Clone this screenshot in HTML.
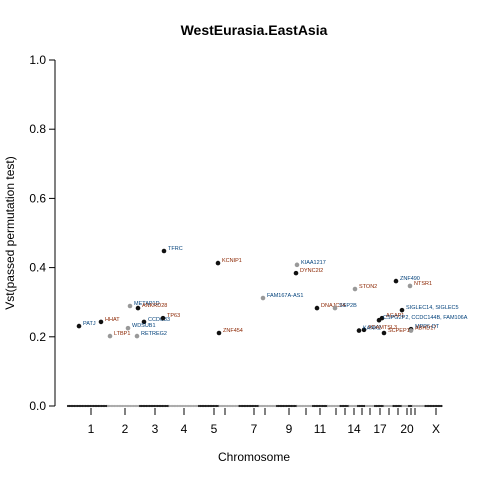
<!DOCTYPE html>
<html><head><meta charset="utf-8"><style>body{margin:0;background:#fff}svg{display:block;font-family:"Liberation Sans",sans-serif}</style></head>
<body>
<svg id="c" width="480" height="480">
<text x="254" y="35" text-anchor="middle" font-size="14" font-weight="bold">WestEurasia.EastAsia</text>
<text x="254" y="461" text-anchor="middle" font-size="12">Chromosome</text>
<text transform="translate(14,233) rotate(-90)" text-anchor="middle" font-size="12">Vst(passed permutation test)</text>
<g id="axes"></g><g id="base"></g><g id="pts"></g>
</svg>
<script>
const chroms=["1","2","3","4","5","6","7","8","9","10","11","12","13","14","15","16","17","18","19","20","21","22","X"];
const chromPos=[91,125,155,184,214,225,254,265,289,306,320,336,345,354,362,370,380,389,398,407,411,415,436];
const shownLabels=["1","2","3","4","5","7","9","11","14","17","20","X"];
const yTicks=[0,0.2,0.4,0.6,0.8,1.0];
const genes=["TFRC","KCNIP1","PATJ","HHAT","METAP1D","ANKRD28","CCDC83","TP63","WDSUB1","LTBP1","RETREG2","ZNF454","KIAA1217","DYNC2I2","FAM167A-AS1","DNAJC24","SSP2B","STON2","ZNF490","NTSR1","SIGLEC14, SIGLEC5","AGAP1","CSPG2P2, CCDC144B, FAM106A","ADAMTSL3","KANK2","SCPEP1","MPP6-DT","ABHD17"];
const geneX=[164,218,79,101,130,138,144,163,128,110,137,219,297,296,263,317,335,355,396,410,402,382,379,364,359,384,411,411];
const geneV=[0.448,0.413,0.231,0.243,0.289,0.283,0.243,0.254,0.225,0.202,0.202,0.211,0.408,0.384,0.312,0.283,0.283,0.338,0.361,0.347,0.277,0.254,0.248,0.220,0.218,0.211,0.222,0.218];
const geneGrey=[0,0,0,0,1,0,0,0,1,1,1,0,1,0,1,0,1,1,0,1,0,0,0,0,0,0,0,1];
const NS="http://www.w3.org/2000/svg";
const y=v=>406-v*346;
function mk(t,a,p){const e=document.createElementNS(NS,t);for(const k in a)e.setAttribute(k,a[k]);p.appendChild(e);return e;}
const ax=document.getElementById('axes');
let l=mk('line',{x1:55,x2:55,y1:y(0),y2:y(1),stroke:'#000'},ax);


yTicks.forEach(v=>{mk('line',{x1:49,x2:55,y1:y(v),y2:y(v),stroke:'#000'},ax);
 const t=mk('text',{x:46,y:y(v)+4,'text-anchor':'end','font-size':12},ax);t.textContent=v.toFixed(1);
 
 });
chroms.forEach((c,i)=>{mk('line',{x1:chromPos[i],x2:chromPos[i],y1:408,y2:415,stroke:'#000'},ax);
 if(shownLabels.includes(c)){const t=mk('text',{x:chromPos[i],y:433,'text-anchor':'middle','font-size':12},ax);t.textContent=c;
 
 }});
const base=document.getElementById('base');
let prev=68;
chroms.forEach((c,i)=>{const end=i<chroms.length-1?(chromPos[i]+chromPos[i+1])/2:442;
 for(let x=prev;x<end;x+=1.6){const d=mk('circle',{cx:x,cy:y(0),r:1.1,fill:i%2?'#aaa':'#222'},base);
 
 }
 prev=end;});
const pg=document.getElementById('pts');
genes.forEach((g,i)=>{const c=mk('circle',{cx:geneX[i],cy:y(geneV[i]),r:2.3,fill:geneGrey[i]?'#999':'#111'},pg);
 
 
 const t=mk('text',{x:geneX[i]+4,y:y(geneV[i])-1,'font-size':5.5,fill:i%2?'#8b2500':'#00407a'},pg);t.textContent=g;
 
 });
</script>
</body></html>
